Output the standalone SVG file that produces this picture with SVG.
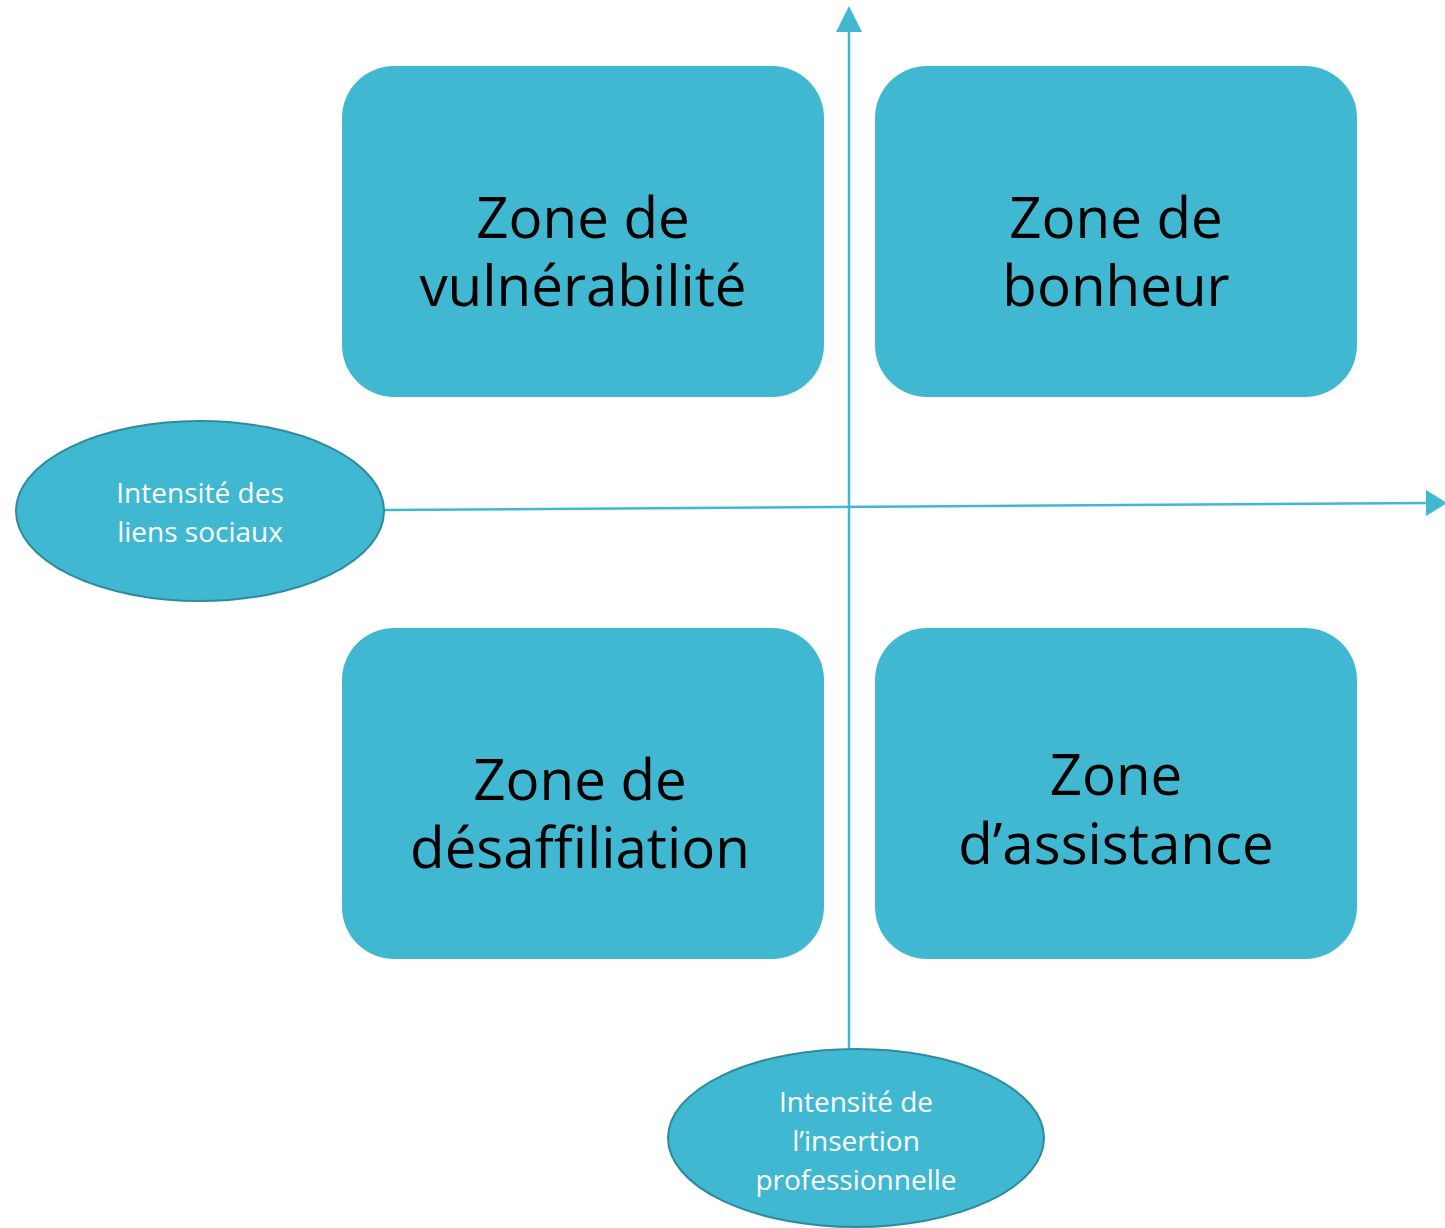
<svg xmlns="http://www.w3.org/2000/svg" width="1445" height="1228" viewBox="0 0 1445 1228">
<style>
.box{fill:#41B8D2}
.ell{fill:#41B8D2;stroke:#2E8B9D;stroke-width:2}
.big{font-family:"Open Sans",sans-serif;font-size:56.5px;fill:#000;text-anchor:middle}
.small{font-family:"Open Sans",sans-serif;font-size:28px;fill:#fff;text-anchor:middle}
.ax{stroke:#41B8D2;stroke-width:2.5;fill:none}
</style>
<rect width="1445" height="1228" fill="#fff"/>
<g id="connectors">
<line class="ax" x1="849" y1="1049" x2="849" y2="28"/>
<polygon points="849,6 836,32 862,32" fill="#41B8D2"/>
<line class="ax" x1="384" y1="510" x2="1428" y2="503"/>
<polygon points="1447,503 1426,490 1426,516" fill="#41B8D2"/>
</g>
<g id="vulnerabilite">
<rect class="box" x="342" y="66" width="482" height="331" rx="52"/>
<text class="big" x="583" y="238">Zone de</text>
<text class="big" x="583" y="306">vulnérabilité</text>
</g>
<g id="bonheur">
<rect class="box" x="875" y="66" width="482" height="331" rx="52"/>
<text class="big" x="1116" y="238">Zone de</text>
<text class="big" x="1116" y="306">bonheur</text>
</g>
<g id="desaffiliation">
<rect class="box" x="342" y="628" width="482" height="331" rx="52"/>
<text class="big" x="580" y="800">Zone de</text>
<text class="big" x="580" y="868">désaffiliation</text>
</g>
<g id="assistance">
<rect class="box" x="875" y="628" width="482" height="331" rx="52"/>
<text class="big" x="1116" y="795">Zone</text>
<text class="big" x="1116" y="864">d’assistance</text>
</g>
<g id="liens">
<ellipse class="ell" cx="200" cy="511" rx="184" ry="90"/>
<text class="small" x="200" y="503">Intensité des</text>
<text class="small" x="200" y="542">liens sociaux</text>
</g>
<g id="insertion">
<ellipse class="ell" cx="856" cy="1138" rx="188" ry="89"/>
<text class="small" x="856" y="1112">Intensité de</text>
<text class="small" x="856" y="1151">l’insertion</text>
<text class="small" x="856" y="1190">professionnelle</text>
</g>
</svg>
